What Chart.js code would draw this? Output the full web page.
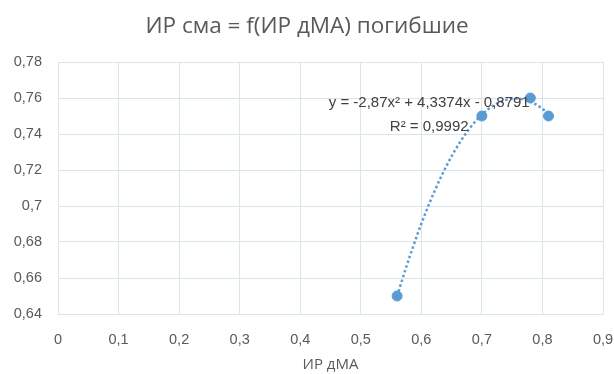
<!DOCTYPE html>
<html>
<head>
<meta charset="utf-8">
<script src="https://cdn.jsdelivr.net/npm/chart.js@4/dist/chart.umd.min.js"></script>
<style>
  html, body { margin: 0; padding: 0; background: #ffffff; }
  #wrap { width: 614px; height: 374px; }
</style>
</head>
<body>
<div id="wrap"><canvas id="c" width="614" height="374"></canvas></div>
<script>
// Observed pairs: ИР дМА (x) against ИР сма (y)
const irDMA = [0.56, 0.70, 0.78, 0.81];
const irSMA = [0.65, 0.75, 0.76, 0.75];

// Polynomial trend (order 2): y = a*x^2 + b*x + c
const trendCoef = [-2.87, 4.3374, -0.8791];
const trendR2 = 0.9992;
const trendLabel = ['y = -2,87x² + 4,3374x - 0,8791', 'R² = 0,9992'];

// Axis ranges
const xRange = [0, 0.9, 0.1];
const yRange = [0.64, 0.78, 0.02];

const blue = '#5b9bd5';
const textGrey = '#595959';
const gridCol = '#d8e5ec';

// Trend curve sampled across the span of the observed x values
const trendPts = [];
const x0 = Math.min(...irDMA), x1 = Math.max(...irDMA);
for (let i = 0; i <= 50; i++) {
  const x = x0 + (x1 - x0) * i / 50;
  trendPts.push({ x, y: trendCoef[0] * x * x + trendCoef[1] * x + trendCoef[2] });
}

const fmt = v => {
  const r = Math.round(v * 100) / 100;
  return String(r).replace('.', ',');
};

// Equation label drawn beside the trend curve
const eqLabel = {
  id: 'eqLabel',
  afterDatasetsDraw(chart) {
    const { ctx, scales } = chart;
    const cx = scales.x.getPixelForValue(0.613);
    ctx.save();
    ctx.font = '15px "Liberation Sans", Arial, sans-serif';
    ctx.fillStyle = '#404040';
    ctx.textAlign = 'center';
    ctx.textBaseline = 'middle';
    ctx.fillText(trendLabel[0], cx, scales.y.getPixelForValue(0.7572));
    ctx.fillText(trendLabel[1], cx, scales.y.getPixelForValue(0.7439));
    ctx.restore();
  }
};

const tickFont = { family: '"Liberation Sans", Arial, sans-serif', size: 14.5 };

new Chart(document.getElementById('c'), {
  type: 'scatter',
  data: {
    datasets: [
      {
        label: 'trend',
        type: 'line',
        data: trendPts,
        borderColor: blue,
        borderWidth: 2.5,
        borderDash: [2.5, 2.5],
        pointRadius: 0,
        fill: false,
        tension: 0,
        order: 2
      },
      {
        label: 'ИР сма',
        data: irDMA.map((x, i) => ({ x, y: irSMA[i] })),
        backgroundColor: blue,
        borderColor: blue,
        pointRadius: 5,
        pointHoverRadius: 5,
        order: 1
      }
    ]
  },
  options: {
    responsive: false,
    animation: false,
    devicePixelRatio: 1,
    layout: { padding: { top: 0, right: 0, bottom: 0, left: 0 } },
    plugins: {
      legend: { display: false },
      tooltip: { enabled: false },
      title: {
        display: true,
        text: 'ИР сма = f(ИР дМА) погибшие',
        color: textGrey,
        font: { family: '"Open Sans", sans-serif', size: 22.5, weight: 'normal' },
        padding: { top: 13, bottom: 22 }
      }
    },
    scales: {
      x: {
        type: 'linear',
        min: xRange[0], max: xRange[1],
        grid: { color: gridCol, drawTicks: false },
        border: { color: gridCol },
        ticks: {
          stepSize: xRange[2],
          padding: 17,
          color: textGrey,
          font: tickFont,
          callback: v => fmt(v)
        },
        title: {
          display: true,
          text: 'ИР дМА',
          color: textGrey,
          font: { family: '"Open Sans", sans-serif', size: 15 },
          padding: { top: 4, bottom: 0 }
        },
        afterFit: s => { s.height = 60; s.paddingLeft = 0; s.paddingRight = 11; }
      },
      y: {
        type: 'linear',
        min: yRange[0], max: yRange[1],
        grid: { color: gridCol, drawTicks: false },
        border: { color: gridCol },
        ticks: {
          stepSize: yRange[2],
          padding: 16,
          color: textGrey,
          font: tickFont,
          callback: v => fmt(v)
        },
        afterFit: s => { s.width = 58; }
      }
    }
  },
  plugins: [eqLabel]
});
</script>
</body>
</html>
